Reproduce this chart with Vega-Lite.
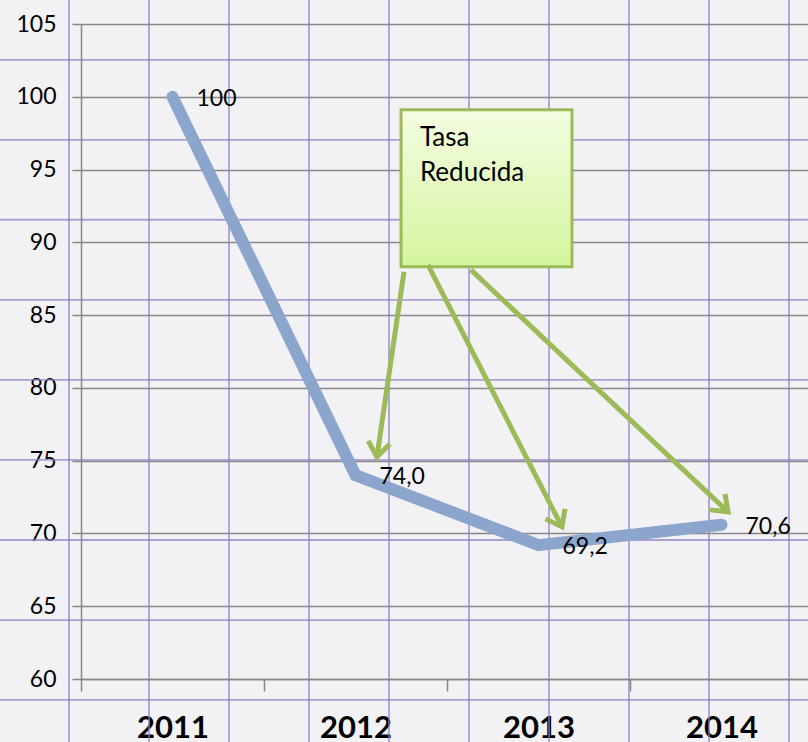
{
  "$schema": "https://vega.github.io/schema/vega-lite/v6.json",
  "width": 727,
  "height": 655,
  "autosize": {"type": "none"},
  "padding": {"left": 81, "top": 24, "right": 0, "bottom": 63},
  "background": "#f2f2f4",
  "config": {
    "view": {"stroke": null},
    "font": "Lato",
    "axis": {"labelFont": "Lato", "labelColor": "#000000"}
  },
  "datasets": {
    "series": [
      {"year": 2011, "value": 100, "lbl": "100"},
      {"year": 2012, "value": 74.0, "lbl": "74,0"},
      {"year": 2013, "value": 69.2, "lbl": "69,2"},
      {"year": 2014, "value": 70.6, "lbl": "70,6"}
    ],
    "paperV": [
      {"gx": 2010.4344}, {"gx": 2010.8716}, {"gx": 2011.3087}, {"gx": 2011.7459},
      {"gx": 2012.1831}, {"gx": 2012.6202}, {"gx": 2013.0574}, {"gx": 2013.4945},
      {"gx": 2013.9317}, {"gx": 2014.3689}
    ],
    "paperH": [
      {"gy": 102.54}, {"gy": 97.04}, {"gy": 91.55}, {"gy": 86.05}, {"gy": 80.55},
      {"gy": 75.05}, {"gy": 69.55}, {"gy": 64.05}, {"gy": 58.56}
    ],
    "box": [
      {"x1": 2012.249, "x2": 2013.183, "y1": 99.11, "y2": 88.32, "tx": 2012.352, "ty": 98.05, "t": "Tasa\nReducida"}
    ],
    "arrows": [
      {"x1": 2012.265, "y1": 87.97, "x2": 2012.117, "y2": 75.26, "ang": 8.3},
      {"x1": 2012.396, "y1": 88.45, "x2": 2013.128, "y2": 70.45, "ang": 333},
      {"x1": 2012.631, "y1": 88.11, "x2": 2014.036, "y2": 71.48, "ang": 313.3}
    ]
  },
  "layer": [
    {
      "data": {"name": "paperV"},
      "mark": {"type": "rule", "color": "#8a7cc4", "strokeWidth": 1.8, "opacity": 0.7},
      "encoding": {
        "x": {"field": "gx", "type": "quantitative"},
        "y": {"datum": 106.7},
        "y2": {"datum": 55.6}
      }
    },
    {
      "data": {"name": "paperH"},
      "mark": {"type": "rule", "color": "#8a7cc4", "strokeWidth": 1.8, "opacity": 0.7},
      "encoding": {
        "y": {"field": "gy", "type": "quantitative"},
        "x": {"datum": 2010.05},
        "x2": {"datum": 2014.48}
      }
    },
    {
      "data": {"name": "series"},
      "mark": {"type": "line", "color": "#8ba5cd", "strokeWidth": 12, "strokeCap": "round", "strokeJoin": "miter"},
      "encoding": {
        "x": {
          "field": "year", "type": "quantitative",
          "scale": {"domain": [2010.5, 2014.4727], "nice": false, "zero": false},
          "axis": {
            "title": null,
            "values": [2010.5, 2011.5, 2012.5, 2013.5],
            "labelExpr": "'' + (datum.value + 0.5)",
            "labelOffset": 91.5,
            "labelFontSize": 31,
            "labelFontWeight": "bold",
            "labelPadding": 22,
            "labelFlush": false,
            "labelOverlap": false,
            "tickSize": 12,
            "tickColor": "#878787",
            "tickWidth": 1.5,
            "domainColor": "#878787",
            "domainWidth": 1.5,
            "grid": false
          }
        },
        "y": {
          "field": "value", "type": "quantitative",
          "scale": {"domain": [60, 105], "nice": false, "zero": false},
          "axis": {
            "title": null,
            "values": [60, 65, 70, 75, 80, 85, 90, 95, 100, 105],
            "labelFontSize": 23,
            "labelPadding": 16,
            "tickSize": 9,
            "tickColor": "#878787",
            "tickWidth": 1.5,
            "domainColor": "#878787",
            "domainWidth": 1.5,
            "grid": true,
            "gridColor": "#878787",
            "gridWidth": 1.5
          }
        }
      }
    },
    {
      "data": {"name": "series"},
      "mark": {"type": "text", "align": "left", "baseline": "middle", "dx": 24, "dy": 2, "fontSize": 23, "color": "#000000"},
      "encoding": {
        "x": {"field": "year", "type": "quantitative"},
        "y": {"field": "value", "type": "quantitative"},
        "text": {"field": "lbl"}
      }
    },
    {
      "data": {"name": "box"},
      "mark": {
        "type": "rect",
        "stroke": "#9bbb59",
        "strokeWidth": 3,
        "fill": {
          "gradient": "linear", "x1": 0, "y1": 0, "x2": 0, "y2": 1,
          "stops": [{"offset": 0, "color": "#f3fde2"}, {"offset": 1, "color": "#d5f59e"}]
        }
      },
      "encoding": {
        "x": {"field": "x1", "type": "quantitative"},
        "x2": {"field": "x2"},
        "y": {"field": "y1", "type": "quantitative"},
        "y2": {"field": "y2"}
      }
    },
    {
      "data": {"name": "box"},
      "mark": {"type": "text", "align": "left", "baseline": "top", "fontSize": 26, "lineBreak": "\n", "lineHeight": 35, "color": "#000000"},
      "encoding": {
        "x": {"field": "tx", "type": "quantitative"},
        "y": {"field": "ty", "type": "quantitative"},
        "text": {"field": "t"}
      }
    },
    {
      "data": {"name": "arrows"},
      "mark": {"type": "rule", "color": "#9bbb59", "strokeWidth": 5},
      "encoding": {
        "x": {"field": "x1", "type": "quantitative"},
        "y": {"field": "y1", "type": "quantitative"},
        "x2": {"field": "x2"},
        "y2": {"field": "y2"}
      }
    },
    {
      "data": {"name": "arrows"},
      "mark": {"type": "point", "shape": "M -0.75 -1 L 0 0 L 0.75 -1", "filled": false, "stroke": "#9bbb59", "strokeWidth": 5, "size": 850, "opacity": 1, "strokeJoin": "miter"},
      "encoding": {
        "x": {"field": "x2", "type": "quantitative"},
        "y": {"field": "y2", "type": "quantitative"},
        "angle": {"field": "ang", "type": "quantitative", "scale": null}
      }
    }
  ]
}
